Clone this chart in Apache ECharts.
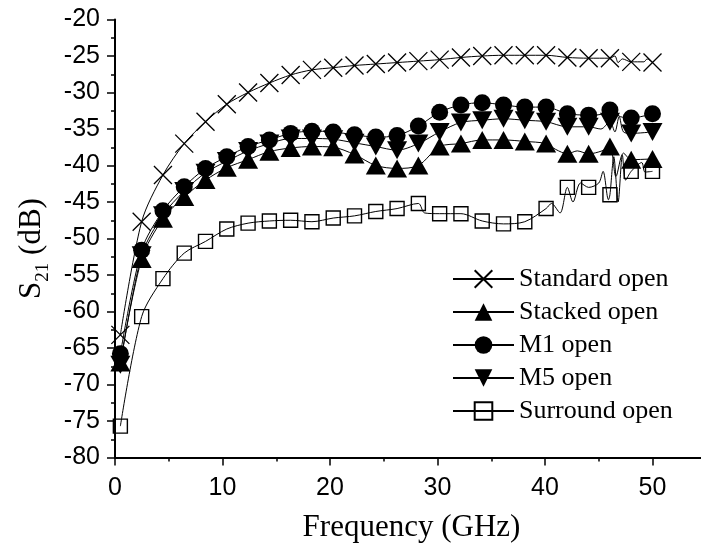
<!DOCTYPE html>
<html>
<head>
<meta charset="utf-8">
<script src="https://cdn.jsdelivr.net/npm/echarts@6/dist/echarts.min.js"></script>
<style>
html,body{margin:0;padding:0;background:#fff;}
#chart{width:701px;height:553px;}
</style>
</head>
<body>
<div id="chart"></div>
<script>
// Marker frequencies (GHz)
const freq = [0.5, 2.48, 4.46, 6.44, 8.42, 10.4, 12.38, 14.36, 16.34, 18.32, 20.3, 22.28, 24.26,
  26.24, 28.22, 30.2, 32.18, 34.16, 36.14, 38.12, 40.1, 42.08, 44.06, 46.04, 48.02, 50];
// S21 (dB) at marker frequencies
const standardOpen = [-63.2, -47.7, -41.3, -37.0, -34.0, -31.6, -30.0, -28.7, -27.6, -26.9, -26.6, -26.3, -26.1,
  -25.9, -25.7, -25.5, -25.2, -25.0, -24.9, -24.9, -24.9, -25.2, -25.3, -25.3, -25.8, -25.9];
const stackedOpen = [-67.0, -52.8, -47.3, -44.3, -42.0, -40.3, -39.2, -38.1, -37.6, -37.4, -37.5, -38.5, -40.0,
  -40.4, -40.0, -37.4, -37.0, -36.5, -36.5, -36.7, -37.0, -38.4, -38.4, -37.4, -39.2, -39.1];
const m1Open = [-65.8, -51.6, -46.2, -42.9, -40.4, -38.8, -37.4, -36.5, -35.6, -35.3, -35.4, -35.8, -36.1,
  -35.9, -34.6, -32.7, -31.7, -31.4, -31.7, -32.0, -32.0, -32.9, -33.1, -32.4, -33.5, -32.9];
const m5Open = [-67.3, -52.3, -46.8, -43.5, -41.0, -39.4, -38.0, -37.0, -36.3, -36.3, -36.4, -36.9, -37.4,
  -37.9, -37.0, -35.4, -34.1, -33.8, -33.6, -33.8, -34.0, -34.7, -34.7, -34.0, -35.6, -35.4];
const surroundOpen = [-75.7, -60.7, -55.5, -52.0, -50.4, -48.7, -47.9, -47.6, -47.5, -47.7, -47.2, -46.9, -46.3,
  -45.9, -45.2, -46.6, -46.6, -47.6, -48.0, -47.7, -45.9, -43.0, -43.0, -44.0, -40.8, -40.8];
// Extra (unmarked) points of the measured traces where they wiggle between markers
const standardNoise = [[46.5, -25.0], [46.8, -25.9], [47.2, -25.4], [49.2, -25.8], [49.5, -25.4]];
const stackedNoise = [[41.0, -37.8], [43.0, -38.0], [45.3, -38.0], [46.6, -41.5], [47.3, -38.3]];
const m1Noise = [[45.2, -33.0], [47.0, -33.3]];
const m5Noise = [[45.2, -35.0], [46.5, -35.4], [46.9, -33.3], [47.3, -35.4]];
const surroundNoise = [[28.8, -46.5], [40.6, -45.2], [41.4, -46.5], [42.6, -45.0], [43.3, -42.4], [45.0, -42.4],
  [45.4, -40.8], [45.9, -44.7], [46.4, -38.8], [46.8, -45.0], [47.2, -38.6], [47.5, -42.0], [49.0, -39.6], [49.3, -40.9]];

const seriesNames = ['Standard open', 'Stacked open', 'M1 open', 'M5 open', 'Surround open'];
const xTickLabels = [0, 10, 20, 30, 40, 50];

function buildData(vals, noise) {
  const pts = freq.map((f, i) => ({ value: [f, vals[i]] }));
  noise.forEach(p => pts.push({ value: [p[0], p[1]], symbol: 'none' }));
  pts.sort((a, b) => a.value[0] - b.value[0]);
  return pts;
}

const crossPath = 'path://M0,0L10,10M10,0L0,10';
const styles = [
  { symbol: crossPath, symbolSize: 18, itemStyle: { color: 'transparent', borderColor: '#000', borderWidth: 1.3 } },
  { symbol: 'triangle', symbolSize: [20, 18], itemStyle: { color: '#000' } },
  { symbol: 'circle', symbolSize: 17, itemStyle: { color: '#000' } },
  { symbol: 'triangle', symbolRotate: 180, symbolSize: [20, 18], itemStyle: { color: '#000' } },
  { symbol: 'rect', symbolSize: 14, itemStyle: { color: 'transparent', borderColor: '#000', borderWidth: 1.4 } }
];
const valueSets = [standardOpen, stackedOpen, m1Open, m5Open, surroundOpen];
const noiseSets = [standardNoise, stackedNoise, m1Noise, m5Noise, surroundNoise];

const series = seriesNames.map((name, i) => Object.assign({
  name: name,
  type: 'line',
  data: buildData(valueSets[i], noiseSets[i]),
  smooth: 0.3,
  showAllSymbol: true,
  animation: false,
  lineStyle: { color: '#000', width: 1 },
  emphasis: { disabled: true }
}, styles[i]));

const chart = echarts.init(document.getElementById('chart'), null, { renderer: 'canvas' });
chart.setOption({
  animation: false,
  backgroundColor: '#fff',
  grid: { left: 115, top: 19.5, right: -59, bottom: 95.5, containLabel: false, outerBoundsMode: 'none' },
  legend: {
    orient: 'vertical',
    left: 452,
    top: 266,
    itemWidth: 61,
    itemHeight: 22,
    itemGap: 7,
    padding: 0,
    data: seriesNames,
    textStyle: { fontFamily: 'Liberation Serif', fontSize: 26, color: '#000' },
    selectedMode: false
  },
  xAxis: {
    type: 'value',
    min: 0,
    max: 60,
    interval: 10,
    name: 'Frequency (GHz)',
    nameLocation: 'middle',
    nameGap: 55,
    nameTextStyle: { fontFamily: 'Liberation Serif', fontSize: 31, color: '#000', padding: [0, 52, 0, 0] },
    axisLine: { show: true, onZero: false, lineStyle: { color: '#000', width: 2 } },
    axisTick: { show: true, inside: false, length: 8, lineStyle: { color: '#000', width: 1.5 } },
    minorTick: { show: true, splitNumber: 2, length: 4, lineStyle: { color: '#000', width: 1.5 } },
    splitLine: { show: false },
    axisLabel: {
      margin: 18,
      fontFamily: 'Liberation Sans',
      fontSize: 25,
      color: '#000',
      formatter: v => (xTickLabels.indexOf(v) >= 0 ? String(v) : '')
    }
  },
  yAxis: {
    type: 'value',
    min: -80,
    max: -20,
    interval: 5,
    name: 'S{sub|21} (dB)',
    nameLocation: 'middle',
    nameRotate: 90,
    nameGap: 68,
    nameTextStyle: {
      fontFamily: 'Liberation Serif', fontSize: 31, color: '#000', padding: [0, 20, 0, 0],
      rich: { sub: { fontFamily: 'Liberation Serif', fontSize: 19, color: '#000', verticalAlign: 'bottom', padding: [0, 0, -6, 0] } }
    },
    axisLine: { show: true, onZero: false, lineStyle: { color: '#000', width: 2 } },
    axisTick: { show: true, inside: false, length: 8, lineStyle: { color: '#000', width: 1.5 } },
    minorTick: { show: true, splitNumber: 2, length: 4, lineStyle: { color: '#000', width: 1.5 } },
    splitLine: { show: false },
    axisLabel: { margin: 15, fontFamily: 'Liberation Sans', fontSize: 25, color: '#000' }
  },
  series: series
});
</script>
</body>
</html>
